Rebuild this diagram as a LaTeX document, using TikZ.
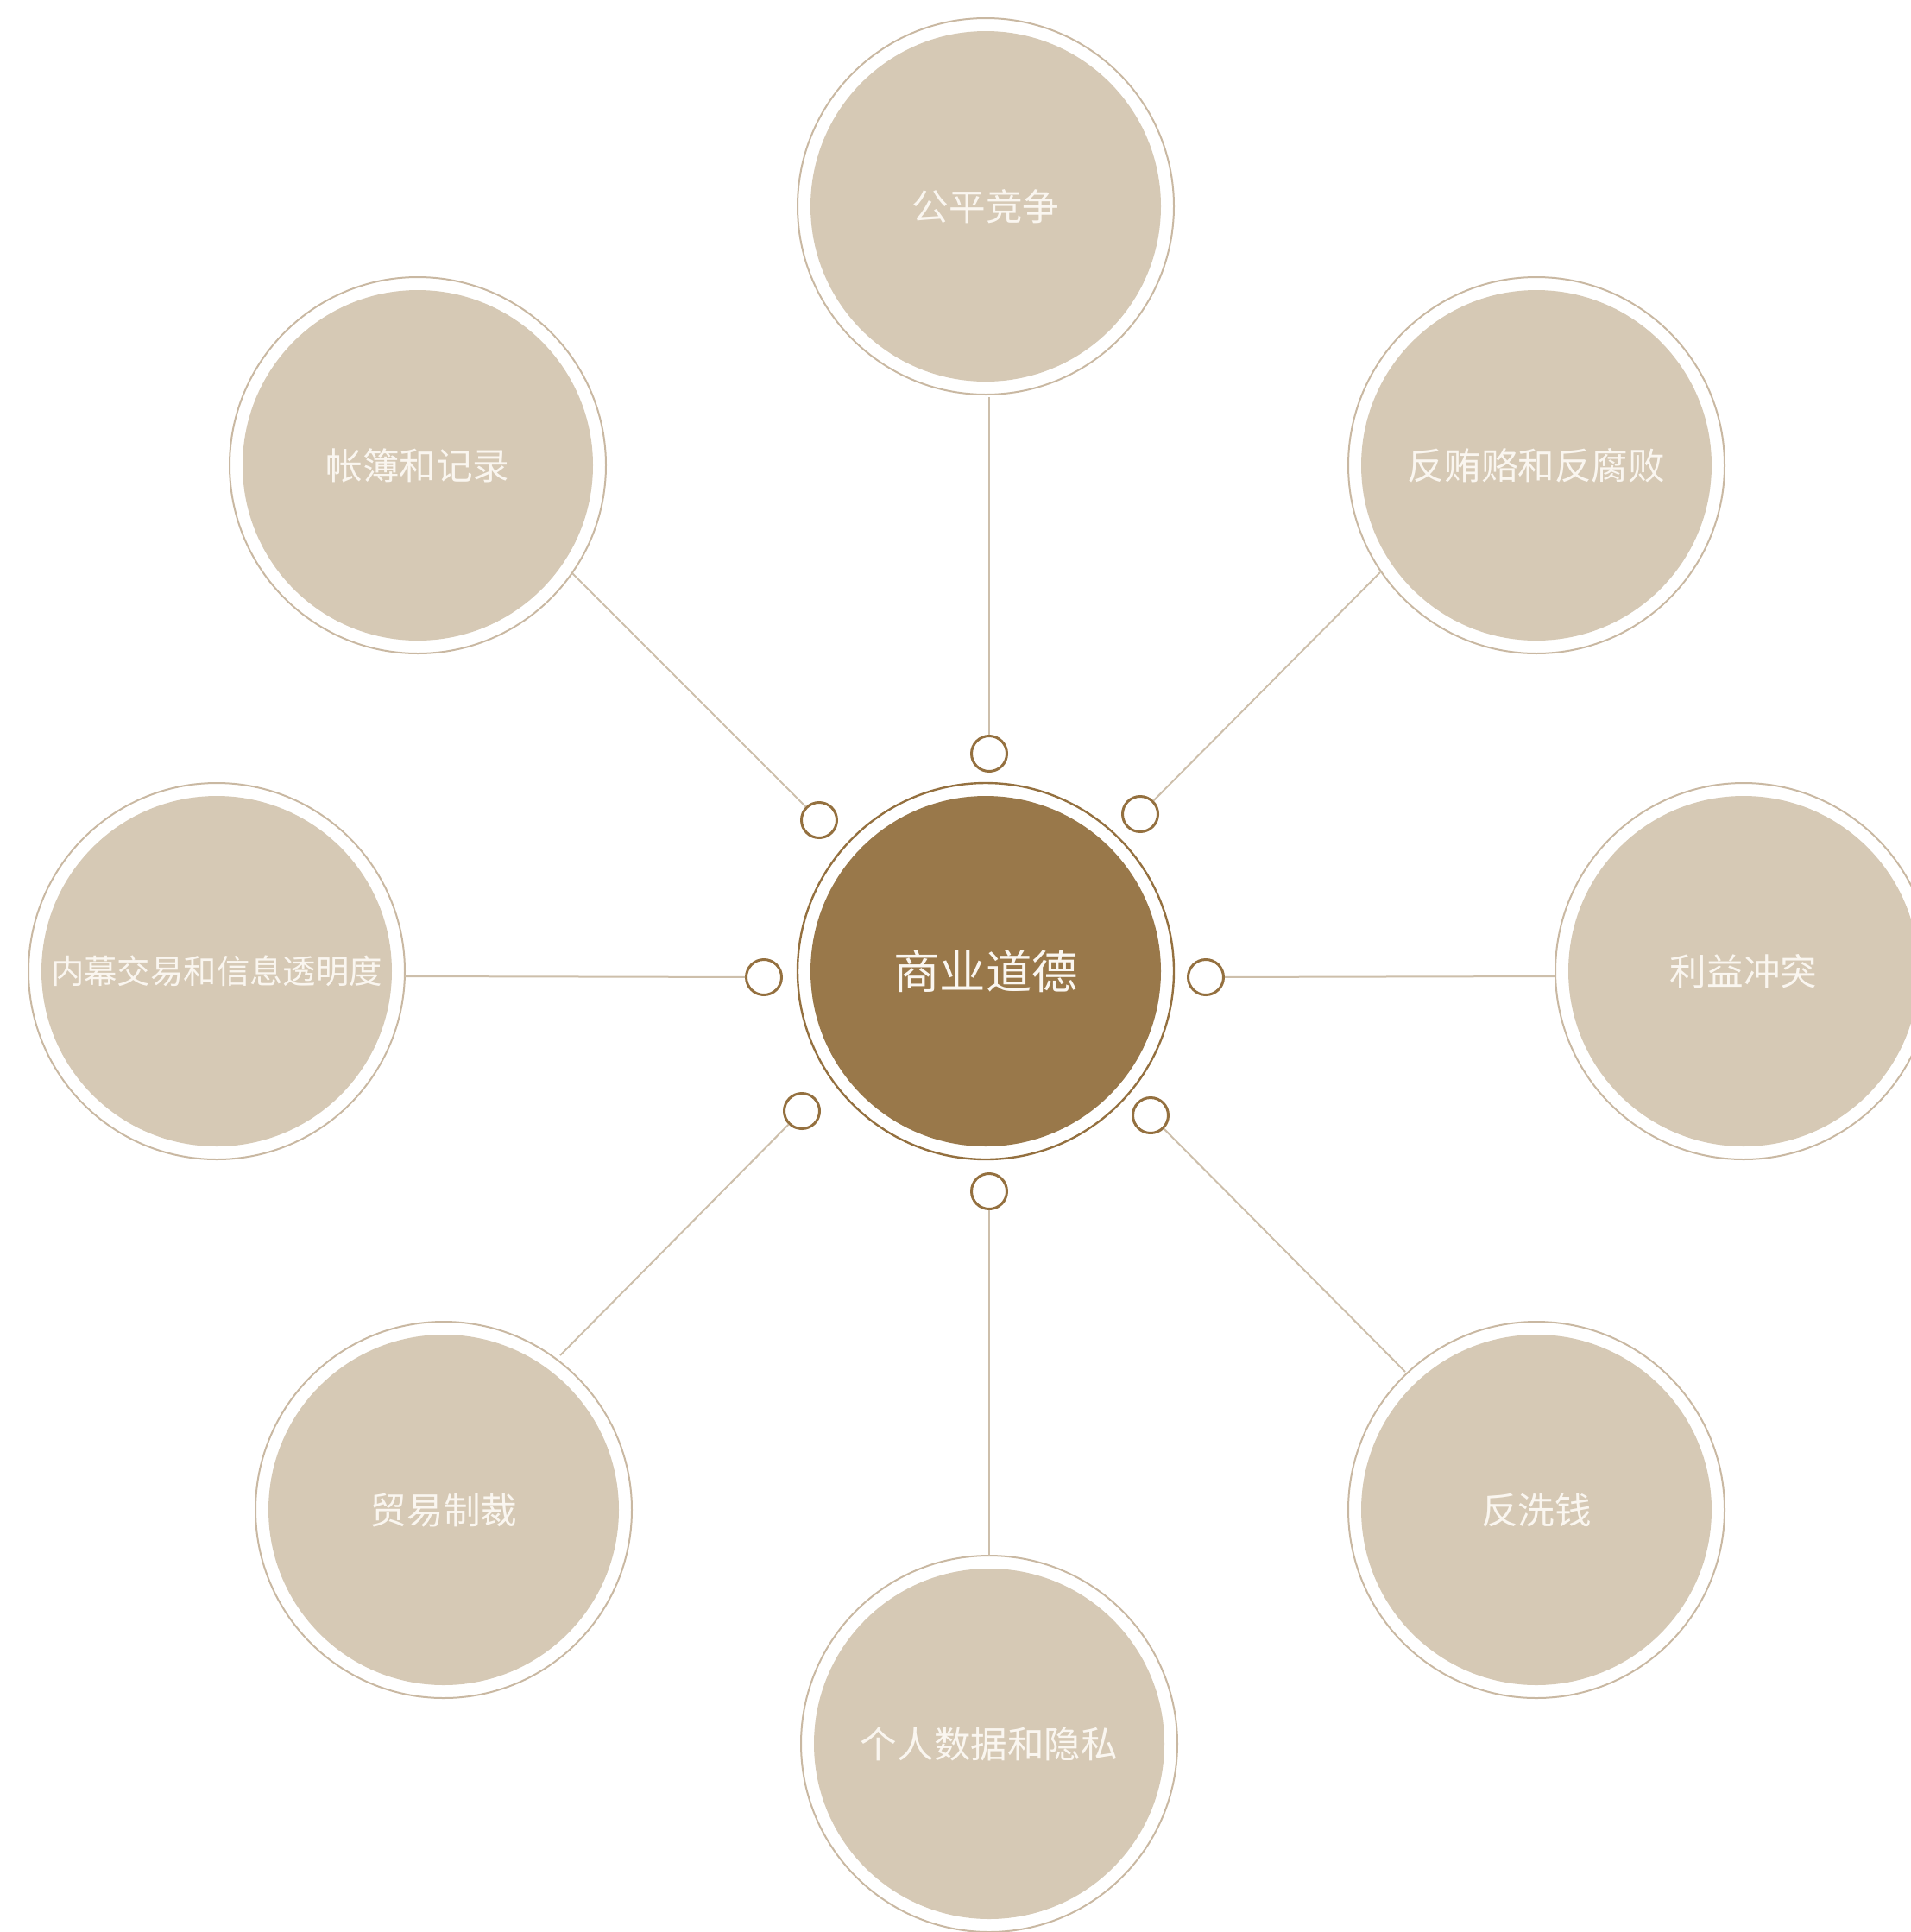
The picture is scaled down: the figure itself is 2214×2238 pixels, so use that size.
\documentclass[tikz,border=0pt]{standalone}
\usepackage{fontspec}
\setmainfont{Noto Sans CJK SC}
\begin{document}
\begin{tikzpicture}[x=0.5pt,y=-0.5pt]
\definecolor{ringc}{HTML}{C9B8A2}
\definecolor{discc}{HTML}{D6C9B5}
\definecolor{linec}{HTML}{CDBFAB}
\definecolor{hubc}{HTML}{99784A}
\definecolor{hubring}{HTML}{94703F}
\definecolor{dotc}{HTML}{94703F}
\definecolor{txtc}{HTML}{FAF6F0}
\tikzset{
  ring/.style={circle, draw=ringc, line width=1pt, minimum size=218pt, inner sep=0pt},
  disc/.style={circle, fill=discc, minimum size=203pt, inner sep=0pt, text=txtc,
    font=\fontsize{21.3pt}{26pt}\selectfont},
  hubring/.style={circle, draw=hubring, line width=1.2pt, minimum size=218pt, inner sep=0pt},
  hubdisc/.style={circle, fill=hubc, minimum size=203pt, inner sep=0pt, text=txtc,
    font=\fontsize{26.7pt}{32pt}\selectfont},
  dot/.style={circle, draw=dotc, line width=1.5pt, fill=white, minimum size=20.5pt, inner sep=0pt},
  link/.style={draw=linec, line width=1pt}
}
\useasboundingbox (0,0) rectangle (2214,2238);
\clip (0,0) rectangle (2214,2238);

% centre
\node[hubring] (hr) at (1142,1125) {};
\node[hubdisc] (hub) at (1142,1125) {商业道德};

% outer topics
\node[ring] (r1) at (1142,239) {};
\node[disc] (d1) at (1142,239) {公平竞争};
\node[ring] (r2) at (1780,539) {};
\node[disc] (d2) at (1780,539) {反贿赂和反腐败};
\node[ring] (r3) at (2020,1125) {};
\node[disc] (d3) at (2020,1125) {利益冲突};
\node[ring] (r4) at (1780,1749) {};
\node[disc] (d4) at (1780,1749) {反洗钱};
\node[ring] (r5) at (1146,2020) {};
\node[disc] (d5) at (1146,2020) {个人数据和隐私};
\node[ring] (r6) at (514,1749) {};
\node[disc] (d6) at (514,1749) {贸易制裁};
\node[ring] (r7) at (251,1125) {};
\node[disc, font=\fontsize{19.2pt}{23pt}\selectfont] (d7) at (251,1125) {内幕交易和信息透明度};
\node[ring] (r8) at (484,539) {};
\node[disc] (d8) at (484,539) {帐簿和记录};

% connector end points on the rings
\coordinate (e1) at (1146,460);
\coordinate (e2) at (1599,663);
\coordinate (e3) at (1802,1131);
\coordinate (e4) at (1628,1589);
\coordinate (e5) at (1146,1803);
\coordinate (e6) at (649,1570);
\coordinate (e7) at (469,1131);
\coordinate (e8) at (663,664);

% small connector circles
\node[dot] (s1) at (1146,873) {};
\node[dot] (s2) at (1321,943) {};
\node[dot] (s3) at (1397,1132) {};
\node[dot] (s4) at (1333,1292) {};
\node[dot] (s5) at (1146,1380) {};
\node[dot] (s6) at (929,1287) {};
\node[dot] (s7) at (885,1132) {};
\node[dot] (s8) at (949,950) {};

\foreach \i in {1,...,8} {
  \draw[link] (s\i) -- (e\i);
}
\end{tikzpicture}
\end{document}
